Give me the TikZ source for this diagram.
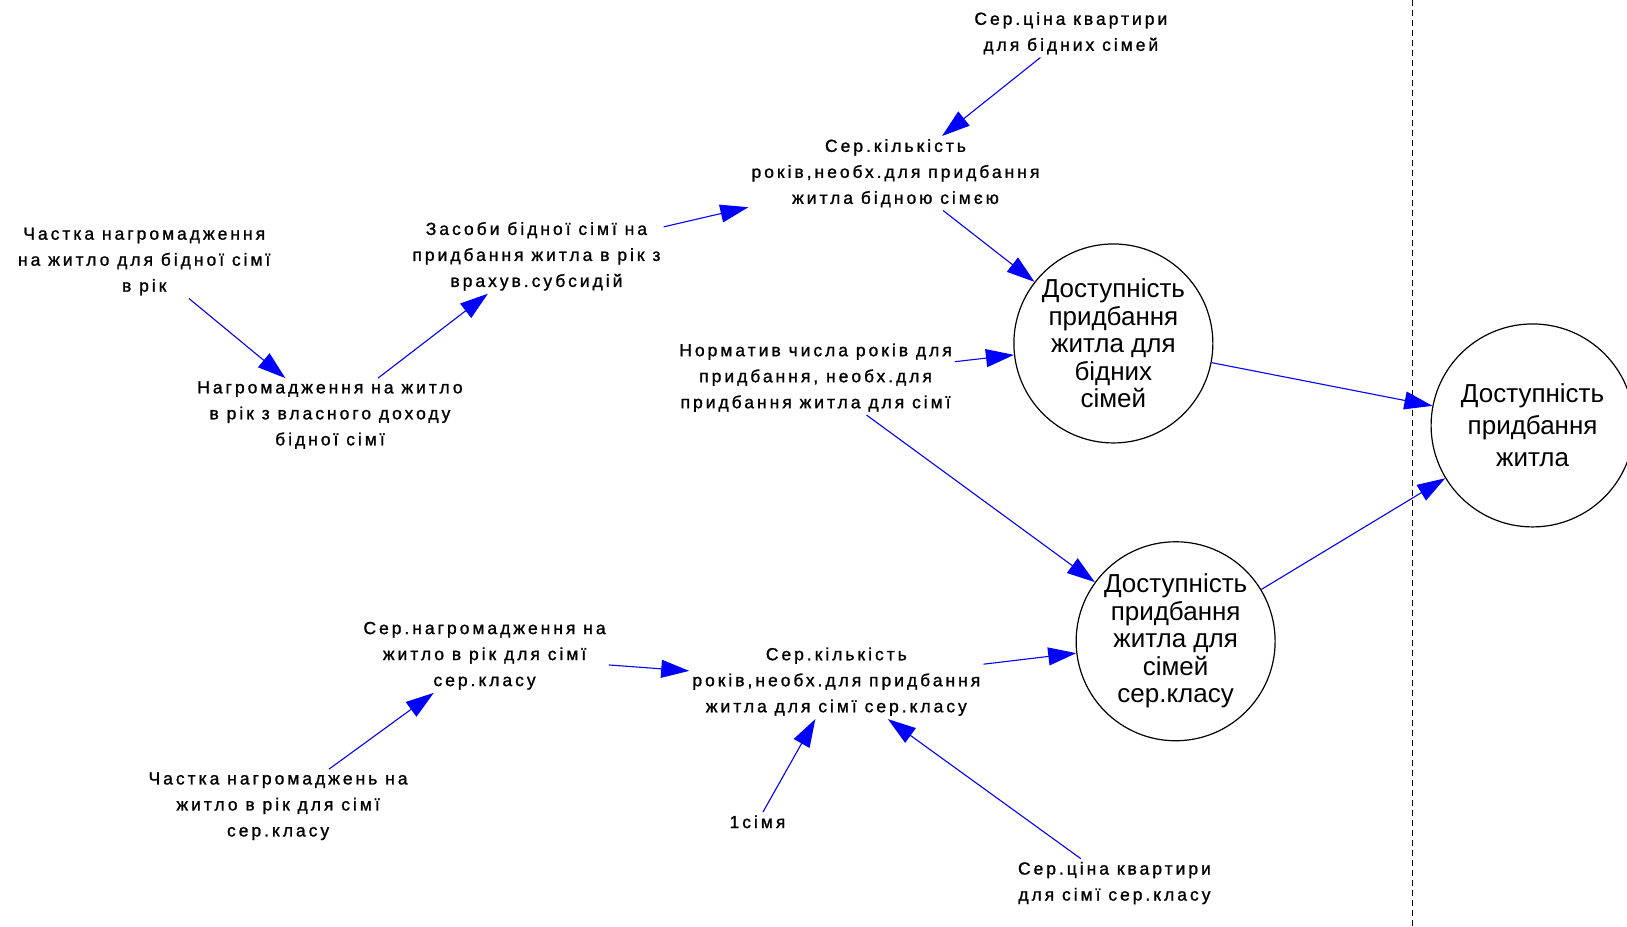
\documentclass[tikz,border=0pt]{standalone}
\usepackage{fontspec}
\setmainfont{Liberation Sans}
\newfontfamily\lblfont[LetterSpace=17,FakeBold=1.2]{Liberation Sans}
\usetikzlibrary{arrows.meta}

\begin{document}
\begin{tikzpicture}[x=1.0377pt,y=-1.0377pt,
  lbl/.style={align=center, font=\lblfont\fontsize{17.5}{26}\selectfont, inner sep=3pt},
  stock/.style={circle, draw=black, line width=1.2pt, minimum size=199pt,
    inner sep=0pt, align=center, font=\fontsize{26}{27.5}\selectfont},
  link/.style={draw=blue, line width=1.1pt, -{Triangle[length=28pt,width=18pt]}}]
\useasboundingbox (0,0) rectangle (1568,893);

% boundary of the model sector
\draw[line width=1.2pt, dash pattern=on 6pt off 4pt] (1361,0) -- (1361,893);

% auxiliary variables
\node[lbl] (pricePoor) at (1032,32) {Сер.ціна квартири\\для бідних сімей};
\node[lbl] (yearsPoor) at (863,167) {Сер.кількість\\років,необх.для придбання\\житла бідною сімєю};
\node[lbl] (sharePoor) at (139,252) {Частка нагромадження\\на житло для бідної сімї\\в рік};
\node[lbl] (meansPoor) at (517,247) {Засоби бідної сімї на\\придбання житла в рік з\\врахув.субсидій};
\node[lbl] (savePoor) at (318,400) {Нагромадження на житло\\в рік з власного доходу\\бідної сімї};
\node[lbl] (norm) at (786,364) {Норматив числа років для\\придбання, необх.для\\придбання житла для сімї};
\node[lbl] (saveMid) at (467,632) {Сер.нагромадження на\\житло в рік для сімї\\сер.класу};
\node[lbl] (yearsMid) at (806,657) {Сер.кількість\\років,необх.для придбання\\житла для сімї сер.класу};
\node[lbl] (shareMid) at (268,777) {Частка нагромаджень на\\житло в рік для сімї\\сер.класу};
\node[lbl] (one) at (730,792) {1сімя};
\node[lbl] (priceMid) at (1074,851) {Сер.ціна квартири\\для сімї сер.класу};

% affordability indicators
\node[stock] (affPoor) at (1073,331) {Доступність\\придбання\\житла для\\бідних\\сімей};
\node[stock] (affMid) at (1133,618) {Доступність\\придбання\\житла для\\сімей\\сер.класу};
\node[stock, minimum size=203pt, font=\fontsize{26}{32}\selectfont] (affAll) at (1477,410) {Доступність\\придбання\\житла};

% causal links
\draw[link] (pricePoor) -- (yearsPoor);
\draw[link] (meansPoor) -- (yearsPoor);
\draw[link] (yearsPoor) -- (affPoor);
\draw[link] (sharePoor) -- (savePoor);
\draw[link] (savePoor) -- (meansPoor);
\draw[link] (norm) -- (affPoor);
\draw[link] (norm) -- (affMid);
\draw[link] (affPoor) -- (affAll);
\draw[link] (affMid) -- (affAll);
\draw[link] (saveMid) -- (yearsMid);
\draw[link] (shareMid) -- (saveMid);
\draw[link] (yearsMid) -- (affMid);
\draw[link] (one) -- (yearsMid);
\draw[link] (priceMid) -- (yearsMid);
\end{tikzpicture}
\end{document}
